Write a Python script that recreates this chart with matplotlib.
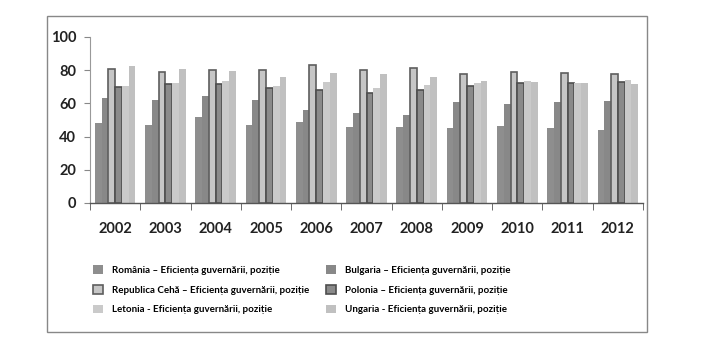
import matplotlib
matplotlib.use("Agg")
import matplotlib.pyplot as plt
import numpy as np
from matplotlib.patches import Rectangle

years = ["2002", "2003", "2004", "2005", "2006", "2007", "2008", "2009", "2010", "2011", "2012"]
romania = [48, 47, 52, 47, 48.5, 46, 46, 45, 46.5, 45, 44]
bulgaria = [63, 62, 64.5, 62, 56, 54.5, 53, 61, 59.5, 61, 61.5]
cehia = [81, 79, 80, 80, 83, 80, 81.5, 78, 79, 78.5, 77.5]
polonia = [70, 71.5, 71.5, 69.5, 68, 66.5, 68, 70.5, 72, 72, 73]
letonia = [70.5, 72.5, 73.5, 70.5, 73, 69.5, 71, 72, 73.5, 72, 74]
ungaria = [82.5, 81, 79.5, 76, 78.5, 77.5, 76, 73.5, 73, 72.5, 71.5]

labels = {
    "ro": "România – Eficiența guvernării, poziție",
    "bg": "Bulgaria – Eficiența guvernării, poziție",
    "cz": "Republica Cehă – Eficiența guvernării, poziție",
    "pl": "Polonia – Eficiența guvernării, poziție",
    "lv": "Letonia - Eficiența guvernării, poziție",
    "hu": "Ungaria - Eficiența guvernării, poziție",
}

plt.rcParams['font.family'] = ['Lato', 'DejaVu Sans']

fig = plt.figure(figsize=(7.28, 3.4), dpi=100)
ax = fig.add_axes([90/728, 1-203/340, (643-90)/728, (203-37)/340])

series = [
    ("ro", romania, "#8e8e8e", "#8e8e8e", 0.0),
    ("bg", bulgaria, "#888888", "#888888", 0.0),
    ("cz", cehia, "#c6c6c6", "#5e5e5e", 1.2),
    ("pl", polonia, "#8a8a8a", "#4e4e4e", 1.2),
    ("lv", letonia, "#cacaca", "#cacaca", 0.0),
    ("hu", ungaria, "#c0c0c0", "#c0c0c0", 0.0),
]
x = np.arange(len(years))
w = 0.135
handles = {}
for i, (key, vals, fc, ec, lw) in enumerate(series):
    off = (i - 2.5) * w
    b = ax.bar(x + off, vals, w, color=fc, edgecolor=ec, linewidth=lw, label=labels[key])
    handles[key] = b

ax.set_ylim(0, 100)
ax.set_xlim(-0.5, len(years) - 0.5)
ax.set_yticks([0, 20, 40, 60, 80, 100])
ax.set_xticks(x)
ax.set_xticklabels(years)
ax.set_xticks(np.arange(-0.5, len(years), 1), minor=True)
ax.tick_params(axis='x', which='major', length=0, pad=14, labelsize=10.5)
ax.tick_params(axis='x', which='minor', length=5, color="#555555", direction='out')
ax.tick_params(axis='y', length=4, color="#888888", labelsize=10.5, pad=6)
for lab in ax.get_xticklabels() + ax.get_yticklabels():
    lab.set_fontweight('bold')
    lab.set_color("#222222")
for s in ["top", "right"]:
    ax.spines[s].set_visible(False)
ax.spines["left"].set_color("#999999")
ax.spines["bottom"].set_color("#555555")
ax.spines["left"].set_linewidth(0.8)
ax.spines["bottom"].set_linewidth(1.0)

# outer frame
fig.patches.append(Rectangle((47/728, 1-332/340), 600/728, 316/340, transform=fig.transFigure,
                             fill=False, edgecolor="#888888", linewidth=1.0))

leg_kw = dict(frameon=False, prop={'size': 7, 'weight': 'bold'}, handlelength=1.0, handleheight=1.0,
              labelspacing=1.05, handletextpad=1.0, borderaxespad=0, borderpad=0)
l1 = fig.legend([handles["ro"], handles["cz"], handles["lv"]],
                [labels["ro"], labels["cz"], labels["lv"]],
                loc="upper left", bbox_to_anchor=(93/728, 1-265/340), **leg_kw)
l2 = fig.legend([handles["bg"], handles["pl"], handles["hu"]],
                [labels["bg"], labels["pl"], labels["hu"]],
                loc="upper left", bbox_to_anchor=(326/728, 1-265/340), **leg_kw)

fig.savefig("out.png", dpi=100)
